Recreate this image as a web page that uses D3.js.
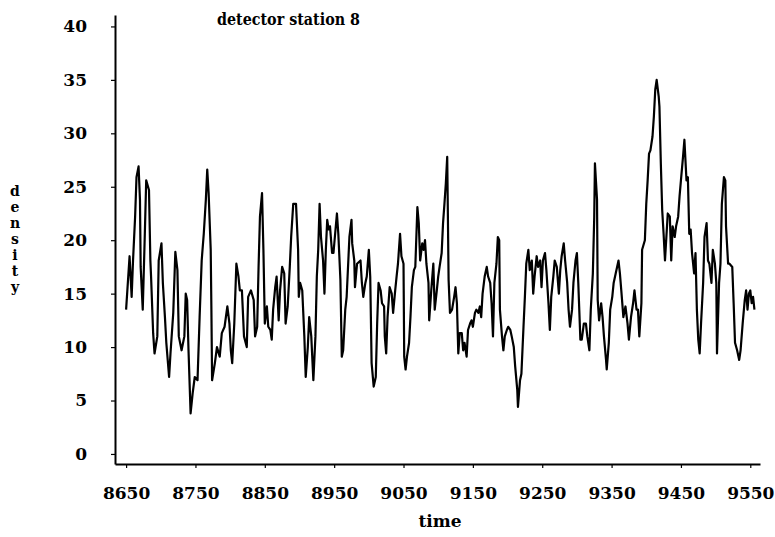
<!DOCTYPE html>
<html lang="en">
  <head>
    <meta charset="UTF-8" />
    <script src="https://cdn.jsdelivr.net/npm/d3@7"></script>
    <title>detector station 8</title>
    <style>
      body { margin: 0; background: white; }
      svg { display: block; }
      .lbl { font-family: "DejaVu Serif", serif; font-weight: bold; fill: black; }
    </style>
  </head>
  <body>
    <script>
      // ---------- data ----------
      const times = [
        8650,8655,8658,8660,8663,8665,8668,8670,8671,8674,8677,8679,8683,8685,8686,8689,8691,8695,8697,8701,
        8703,8706,8708,8712,8714,8718,8721,8724,8726,8730,8734,8736,8738,8740,8743,8746,8749,8753,8756,8759,
        8762,8765,8767,8769,8772,8773,8774,8778,8781,8785,8788,8792,8796,8799,8801,8803,8806,8809,8812,8814,
        8817,8820,8824,8826,8830,8834,8836,8839,8841,8843,8846,8848,8850,8853,8855,8858,8860,8862,8865,8867,
        8870,8872,8875,8878,8880,8883,8886,8888,8891,8895,8898,8899,8901,8904,8907,8909,8912,8914,8917,8920,
        8923,8925,8927,8929,8931,8934,8936,8938,8940,8942,8944,8947,8949,8951,8954,8956,8959,8961,8963,8966,
        8968,8972,8975,8976,8979,8980,8983,8988,8990,8992,8995,8997,9000,9002,9004,9007,9010,9012,9014,9017,
        9019,9022,9023,9025,9027,9030,9033,9035,9038,9040,9042,9045,9047,9050,9051,9053,9055,9058,9060,9062,
        9065,9067,9070,9072,9074,9077,9079,9081,9083,9086,9087,9090,9093,9095,9098,9100,9102,9105,9107,9109,
        9111,9113,9114,9115,9117,9120,9123,9125,9127,9129,9131,9134,9136,9138,9141,9143,9146,9148,9150,9153,
        9155,9158,9160,9162,9164,9167,9170,9172,9175,9177,9179,9181,9184,9186,9188,9189,9192,9194,9196,9199,
        9201,9204,9206,9209,9211,9214,9215,9218,9220,9223,9225,9227,9230,9232,9235,9237,9239,9242,9244,9247,
        9249,9251,9254,9256,9259,9261,9263,9266,9268,9271,9274,9276,9278,9281,9283,9286,9288,9290,9293,9295,
        9298,9300,9302,9305,9307,9310,9313,9315,9318,9320,9323,9325,9326,9329,9330,9332,9335,9337,9339,9342,
        9343,9346,9348,9351,9353,9356,9360,9362,9364,9367,9370,9373,9375,9378,9381,9383,9386,9388,9390,9393,
        9394,9398,9400,9402,9404,9406,9409,9411,9413,9415,9418,9419,9421,9423,9425,9427,9429,9431,9434,9436,
        9438,9441,9443,9446,9448,9450,9453,9455,9458,9460,9462,9464,9466,9469,9471,9473,9475,9477,9479,9482,
        9484,9487,9489,9491,9494,9496,9499,9501,9502,9505,9507,9509,9512,9514,9515,9518,9520,9524,9526,9528,
        9531,9534,9536,9539,9542,9544,9546,9548,9550,9552,9554,9556
      ];
      const density = [
        13.5,18.5,14.7,18.1,22.2,25.9,26.9,23.8,17.5,13.5,20.6,25.6,24.7,18.1,16.6,11.3,9.4,11.0,18.1,19.7,
        16.0,12.8,10.4,7.2,9.4,13.2,18.9,17.2,11.0,9.7,11.0,15.0,14.4,9.7,3.8,5.7,7.2,6.9,12.8,18.1,
        20.6,23.8,26.6,24.4,19.1,13.5,6.9,8.5,10.0,9.1,11.3,11.9,13.8,12.2,9.7,8.5,12.2,17.8,16.6,15.3,
        15.3,11.0,10.0,14.7,15.3,14.4,11.0,11.9,17.5,22.2,24.4,19.1,12.2,13.8,11.9,11.6,10.7,13.5,15.6,16.6,
        12.5,15.3,17.5,16.9,12.2,13.8,17.5,20.3,23.4,23.4,19.1,14.7,16.0,15.3,11.0,7.2,10.0,12.8,11.0,6.9,
        11.0,16.6,19.1,23.4,20.3,18.1,15.0,19.1,21.9,21.0,21.3,18.8,18.8,20.3,22.5,20.6,16.3,9.1,9.7,13.5,
        14.7,20.3,21.9,19.7,18.1,15.6,17.8,18.1,16.0,14.7,16.0,16.6,19.1,16.6,8.5,6.3,7.2,12.2,16.0,15.3,
        14.1,13.8,11.0,9.4,12.8,15.6,15.0,13.2,15.3,16.6,17.8,20.6,18.5,17.8,9.1,7.9,9.1,10.4,12.8,15.6,
        17.2,17.5,23.1,21.6,18.1,19.7,19.1,20.0,17.8,16.0,12.5,15.3,17.8,13.5,15.3,16.6,17.5,18.8,21.6,23.4,
        25.3,27.8,22.2,16.3,13.2,13.5,14.7,15.6,14.1,9.4,11.3,11.3,9.7,10.4,9.1,11.6,12.2,12.5,11.9,13.2,
        13.5,13.2,13.8,12.8,15.0,16.6,17.5,16.6,16.0,14.1,11.0,16.0,17.8,20.3,20.0,13.5,11.0,9.7,11.0,11.6,
        11.9,11.6,11.0,10.0,8.2,6.0,4.4,6.9,7.5,11.9,14.7,17.8,19.1,17.2,18.1,15.0,16.6,18.5,17.5,18.1,
        15.6,18.1,18.8,17.2,14.1,11.6,14.7,16.6,18.1,17.5,15.0,17.2,18.5,19.7,18.1,16.0,13.5,11.9,13.5,16.0,
        18.1,18.8,16.0,10.7,10.7,12.2,12.2,11.0,9.7,13.5,16.9,22.2,27.2,23.8,14.4,12.5,14.1,12.8,11.0,8.8,
        7.9,10.4,13.5,14.7,16.0,16.9,18.1,16.9,15.3,12.8,13.8,12.2,10.7,12.8,14.1,15.3,13.5,13.5,11.0,14.1,
        19.1,20.0,23.4,25.6,28.1,28.4,29.7,31.6,34.1,35.0,33.4,32.5,27.2,22.8,20.6,18.1,20.3,22.5,22.2,18.1,
        21.3,20.3,21.3,22.2,24.1,25.6,27.8,29.4,25.6,25.9,20.6,21.0,18.8,16.9,18.8,13.5,10.7,9.4,12.2,16.0,
        20.3,21.6,18.1,17.8,16.0,19.1,17.8,16.0,9.4,16.0,17.8,23.4,25.9,25.6,21.3,17.8,17.8,17.5,14.1,10.4,
        9.7,8.8,9.7,12.2,14.4,15.3,13.5,15.0,15.3,14.1,14.7,13.5
      ];
      const xTicks = [8650, 8750, 8850, 8950, 9050, 9150, 9250, 9350, 9450, 9550];
      const yTicks = [0, 5, 10, 15, 20, 25, 30, 35, 40];
      const title = "detector station 8";
      const xTitle = "time";
      const yTitle = "density";

      // ---------- setup ----------
      const width = 775, height = 537;
      const svg = d3.select("body").append("svg")
        .attr("width", width).attr("height", height);

      // axis extents run a little past the first/last ticks
      const x = d3.scaleLinear().domain([8634, 9564]).range([115, 760]);
      const y = d3.scaleLinear().domain([-0.94, 41.07]).range([464, 15]);

      // ---------- axes ----------
      const xAxis = svg.append("g")
        .attr("transform", `translate(0,${y.range()[0]})`)
        .call(d3.axisBottom(x).tickValues(xTicks).tickFormat(d3.format("d"))
          .tickSize(4).tickSizeOuter(0).tickPadding(19));
      const yAxis = svg.append("g")
        .attr("transform", `translate(${x.range()[0]},0)`)
        .call(d3.axisLeft(y).tickValues(yTicks).tickFormat(d3.format("d"))
          .tickSize(4).tickSizeOuter(0).tickPadding(24));

      [xAxis, yAxis].forEach((g) => {
        g.select(".domain").attr("stroke", "black").attr("stroke-width", 2);
        g.selectAll(".tick line").attr("stroke", "black").attr("stroke-width", 1.2);
        g.selectAll(".tick text")
          .attr("class", "lbl")
          .style("font-size", "17px");
      });

      // ---------- line ----------
      const pts = times.map((t, i) => [t, density[i]]);
      svg.append("path")
        .datum(pts)
        .attr("fill", "none")
        .attr("stroke", "black")
        .attr("stroke-width", 2.2)
        .attr("stroke-linejoin", "round")
        .attr("d", d3.line().x((d) => x(d[0])).y((d) => y(d[1])));

      // ---------- titles ----------
      svg.append("text")
        .attr("class", "lbl")
        .attr("x", 217).attr("y", 25)
        .attr("textLength", 143)
        .attr("lengthAdjust", "spacingAndGlyphs")
        .style("font-size", "16px")
        .text(title);

      svg.append("text")
        .attr("class", "lbl")
        .attr("x", 440).attr("y", 527)
        .attr("text-anchor", "middle")
        .style("font-size", "17px")
        .text(xTitle);

      // y title as a column of single letters
      svg.append("g")
        .selectAll("text")
        .data(yTitle.split(""))
        .join("text")
        .attr("class", "lbl")
        .attr("x", 15)
        .attr("y", (d, i) => 196 + i * 16)
        .attr("text-anchor", "middle")
        .style("font-size", "14px")
        .text((d) => d);
    </script>
  </body>
</html>
